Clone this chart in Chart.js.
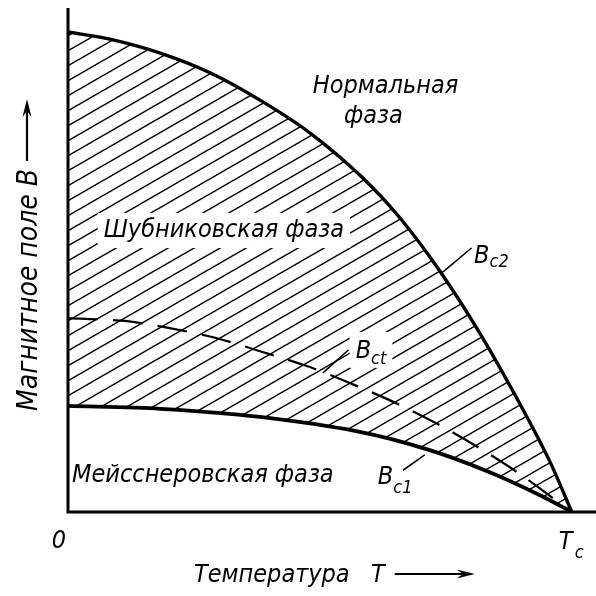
<!DOCTYPE html>
<html>
<head>
<meta charset="utf-8">
<script src="https://cdn.jsdelivr.net/npm/chart.js@4.4.1/dist/chart.umd.min.js"></script>
<style>
html, body { margin: 0; padding: 0; background: #fff; }
#wrap { width: 596px; height: 596px; }
</style>
</head>
<body>
<div id="wrap"><canvas id="phaseChart" width="596" height="596"></canvas></div>
<script>
// T in units of Tc, B in units of Bc2(0)
const tUpper = [0, 0.083, 0.183, 0.282, 0.381, 0.480, 0.579, 0.659, 0.738, 0.817, 0.897, 0.956, 1];
const bUpper = [1.0, 0.985, 0.956, 0.915, 0.858, 0.790, 0.702, 0.6125, 0.502, 0.373, 0.225, 0.106, 0];

const tThermo = [0, 0.113, 0.202, 0.292, 0.381, 0.480, 0.579, 0.659, 0.738, 0.817, 0.897, 1];
const bThermo = [0.404, 0.398, 0.383, 0.363, 0.335, 0.302, 0.260, 0.223, 0.181, 0.133, 0.079, 0];

const tLower = [0, 0.183, 0.381, 0.579, 0.718, 0.837, 0.937, 1];
const bLower = [0.221, 0.215, 0.198, 0.167, 0.129, 0.083, 0.035, 0];

const FONT = '"Liberation Sans Narrow", "DejaVu Sans Condensed", sans-serif';

function toPoints(ts, bs) {
    return ts.map((t, i) => ({x: t, y: bs[i]}));
}

function makeHatch(ctx) {
    const w = 26, h = 15;
    const tile = document.createElement('canvas');
    tile.width = w; tile.height = h;
    const c = tile.getContext('2d');
    c.strokeStyle = '#000';
    c.lineWidth = 1.5;
    for (let k = -1; k <= 1; k++) {
        c.beginPath();
        c.moveTo(-w + k * w, 2 * h);
        c.lineTo(2 * w + k * w, -h);
        c.stroke();
    }
    return ctx.createPattern(tile, 'repeat');
}

function arrow(ctx, x1, y1, x2, y2) {
    const a = Math.atan2(y2 - y1, x2 - x1);
    const cs = Math.cos(a), sn = Math.sin(a);
    ctx.beginPath();
    ctx.moveTo(x1, y1);
    ctx.lineTo(x2 - 10 * cs, y2 - 10 * sn);
    ctx.stroke();
    ctx.beginPath();
    ctx.moveTo(x2, y2);
    ctx.lineTo(x2 - 18 * cs + 4.5 * sn, y2 - 18 * sn - 4.5 * cs);
    ctx.lineTo(x2 - 12 * cs, y2 - 12 * sn);
    ctx.lineTo(x2 - 18 * cs - 4.5 * sn, y2 - 18 * sn + 4.5 * cs);
    ctx.closePath();
    ctx.fill();
}

// region names and curve labels, placed in (T, B) units
const phaseNotes = [
    {text: 'Нормальная', t: 0.486, b: 0.873, clear: false},
    {text: 'фаза', t: 0.548, b: 0.81, clear: false},
    {text: 'Шубниковская фаза', t: 0.071, b: 0.573, clear: true},
    {text: 'Мейсснеровская фаза', t: 0.008, b: 0.0625, clear: false}
];
const curveNotes = [
    {main: 'B', sub: 'c2', t: 0.806, b: 0.519, drop: 4, lead: [0.801, 0.55, 0.742, 0.498], clear: false},
    {main: 'B', sub: 'ct', t: 0.571, b: 0.321, drop: 6, lead: [0.506, 0.29, 0.557, 0.338], clear: true},
    {main: 'B', sub: 'c1', t: 0.615, b: 0.058, drop: 9, lead: [0.665, 0.087, 0.708, 0.119], clear: false}
];

const diagramDecor = {
    id: 'diagramDecor',
    afterDatasetsDraw(chart) {
        const ctx = chart.ctx;
        const xs = chart.scales.x, ys = chart.scales.y;
        const area = chart.chartArea;
        const px = t => xs.getPixelForValue(t);
        const py = b => ys.getPixelForValue(b);

        ctx.save();
        ctx.fillStyle = '#000';
        ctx.textBaseline = 'alphabetic';
        ctx.textAlign = 'left';

        ctx.font = 'italic 25px ' + FONT;
        phaseNotes.forEach(n => {
            const x = px(n.t), y = py(n.b);
            if (n.clear) {
                const w = ctx.measureText(n.text).width;
                ctx.fillStyle = '#fff';
                ctx.fillRect(x - 6, y - 24, w + 12, 35);
                ctx.fillStyle = '#000';
            }
            ctx.fillText(n.text, x, y);
        });

        curveNotes.forEach(n => {
            const x = px(n.t), y = py(n.b);
            ctx.font = 'italic 25px ' + FONT;
            const wb = ctx.measureText(n.main).width;
            ctx.font = 'italic 18px ' + FONT;
            const ws = ctx.measureText(n.sub).width;
            if (n.clear) {
                ctx.fillStyle = '#fff';
                ctx.fillRect(x - 6, y - 26, wb + ws + 12, 36);
                ctx.fillStyle = '#000';
            }
            ctx.font = 'italic 25px ' + FONT;
            ctx.fillText(n.main, x, y);
            ctx.font = 'italic 18px ' + FONT;
            ctx.fillText(n.sub, x + wb, y + n.drop);
            ctx.strokeStyle = '#000';
            ctx.lineWidth = 1.6;
            ctx.beginPath();
            ctx.moveTo(px(n.lead[0]), py(n.lead[1]));
            ctx.lineTo(px(n.lead[2]), py(n.lead[3]));
            ctx.stroke();
        });

        // axes
        ctx.strokeStyle = '#000';
        ctx.lineWidth = 3;
        ctx.beginPath();
        ctx.moveTo(area.left, area.top);
        ctx.lineTo(area.left, area.bottom);
        ctx.lineTo(area.right, area.bottom);
        ctx.stroke();

        // axis marks
        ctx.font = 'italic 25px ' + FONT;
        ctx.textAlign = 'right';
        ctx.fillText('0', area.left - 2, area.bottom + 36);
        ctx.textAlign = 'left';
        const tcX = px(1);
        ctx.fillText('T', tcX - 13, area.bottom + 37);
        ctx.font = 'italic 18px ' + FONT;
        ctx.fillText('c', tcX + 3, area.bottom + 46);

        // axis titles with arrows
        ctx.lineWidth = 2.2;
        ctx.font = 'italic 25px ' + FONT;
        const xt = 'Температура   T';
        const xtw = ctx.measureText(xt).width;
        const xb = area.bottom + 70;
        ctx.fillText(xt, 194, xb);
        arrow(ctx, 194 + xtw + 10, xb - 8, 194 + xtw + 90, xb - 8);

        ctx.font = 'italic 28px ' + FONT;
        const yt = 'Магнитное поле B';
        const ytw = ctx.measureText(yt).width;
        ctx.translate(37, 411);
        ctx.rotate(-Math.PI / 2);
        ctx.fillText(yt, 0, 0);
        arrow(ctx, ytw + 8, -10, ytw + 70, -10);
        ctx.restore();
    }
};

const canvas = document.getElementById('phaseChart');
const hatch = makeHatch(canvas.getContext('2d'));

new Chart(canvas, {
    type: 'line',
    data: {
        datasets: [
            {
                label: 'Bc2',
                data: toPoints(tUpper, bUpper),
                borderColor: '#000',
                borderWidth: 3.4,
                backgroundColor: hatch,
                fill: 2,
                tension: 0.3
            },
            {
                label: 'Bct',
                data: toPoints(tThermo, bThermo),
                borderColor: '#000',
                borderWidth: 2.2,
                borderDash: [30, 15],
                fill: false,
                tension: 0.3
            },
            {
                label: 'Bc1',
                data: toPoints(tLower, bLower),
                borderColor: '#000',
                borderWidth: 3.8,
                fill: false,
                tension: 0.3
            }
        ]
    },
    options: {
        responsive: false,
        animation: false,
        layout: {padding: {left: 68, top: 8, right: 0, bottom: 84}},
        elements: {point: {radius: 0}},
        scales: {
            x: {type: 'linear', display: false, min: 0, max: 1.048},
            y: {type: 'linear', display: false, min: 0, max: 1.05}
        },
        plugins: {
            legend: {display: false},
            tooltip: {enabled: false}
        }
    },
    plugins: [diagramDecor]
});
</script>
</body>
</html>
